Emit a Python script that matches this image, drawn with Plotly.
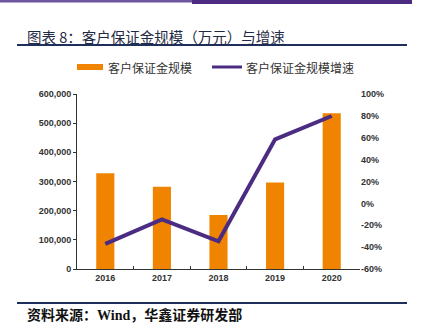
import plotly.graph_objects as go

W, H = 422, 324
years = ["2016", "2017", "2018", "2019", "2020"]
deposits = [328000, 282000, 185000, 297000, 534000]
growth = [-37.0, -14.6, -34.7, 58.6, 79.9]
left_ticks = [0, 100000, 200000, 300000, 400000, 500000, 600000]
left_labels = ["0", "100,000", "200,000", "300,000", "400,000", "500,000", "600,000"]
right_ticks = [-60, -40, -20, 0, 20, 40, 60, 80, 100]
right_labels = [f"{v}%" for v in right_ticks]
series_names = ["客户保证金规模", "客户保证金规模增速"]

ORANGE = "#F08300"
PURPLE = "#4B2C82"
NAVY = "#1F2F5C"

def px(x):
    return x / W

def py(y):
    return 1 - y / H

fig = go.Figure()
fig.add_trace(go.Bar(x=years, y=deposits, marker=dict(color=ORANGE, line=dict(width=0)),
                     width=0.32, showlegend=False, name=series_names[0]))
fig.add_trace(go.Scatter(x=years, y=growth, yaxis="y2", mode="lines",
                         line=dict(color=PURPLE, width=4), showlegend=False, name=series_names[1]))

tickfont = dict(family="Liberation Sans, Arial", size=9, color="#333", weight="bold")
fig.update_layout(
    width=W, height=H,
    margin=dict(l=0, r=0, t=0, b=0),
    paper_bgcolor="white", plot_bgcolor="white",
    showlegend=False,
    xaxis=dict(domain=[px(77), px(360)], showline=True, linecolor="#333", linewidth=1,
               ticks="inside", ticklen=3, tickcolor="#333", tickson="boundaries",
               tickfont=tickfont, showgrid=False, automargin=False, fixedrange=True),
    yaxis=dict(domain=[1 - 269 / H, 1 - 94 / H], range=[0, 600000], tickvals=left_ticks,
               ticktext=left_labels, showline=True, linecolor="#333", linewidth=1,
               ticks="outside", ticklen=3, tickcolor="#333", showgrid=False,
               zeroline=False, tickfont=tickfont, automargin=False),
    yaxis2=dict(overlaying="y", side="right", range=[-60, 100], tickvals=right_ticks,
                ticktext=right_labels, showline=False, showgrid=False, zeroline=False,
                ticks="", tickfont=tickfont, automargin=False),
    shapes=[
        dict(type="rect", xref="paper", yref="paper", x0=0, x1=px(192), y0=py(2.5), y1=py(0),
             fillcolor="#6E55A0", line=dict(width=0)),
        dict(type="rect", xref="paper", yref="paper", x0=px(192), x1=px(412), y0=py(4), y1=py(0),
             fillcolor=PURPLE, line=dict(width=0)),
        dict(type="line", xref="paper", yref="paper", x0=px(17), x1=px(407), y0=py(45), y1=py(45),
             line=dict(color=NAVY, width=2)),
        dict(type="line", xref="paper", yref="paper", x0=px(17), x1=px(407), y0=py(303), y1=py(303),
             line=dict(color=NAVY, width=2)),
        # legend keys
        dict(type="rect", xref="paper", yref="paper", x0=px(77), x1=px(103), y0=py(70), y1=py(64),
             fillcolor=ORANGE, line=dict(width=0)),
        dict(type="line", xref="paper", yref="paper", x0=px(212), x1=px(242), y0=py(67), y1=py(67),
             line=dict(color=PURPLE, width=3)),
    ],
    annotations=[
        dict(text="图表 8：客户保证金规模（万元）与增速", xref="paper", yref="paper",
             x=px(25), y=py(37), xanchor="left", yanchor="middle", showarrow=False,
             font=dict(family="Noto Sans CJK SC", size=14.5, color="#1F2A44")),
        dict(text=series_names[0], xref="paper", yref="paper",
             x=px(106), y=py(67), xanchor="left", yanchor="middle", showarrow=False,
             font=dict(family="Noto Sans CJK SC", size=12, color="#333")),
        dict(text=series_names[1], xref="paper", yref="paper",
             x=px(244), y=py(67), xanchor="left", yanchor="middle", showarrow=False,
             font=dict(family="Noto Sans CJK SC", size=12, color="#333")),
        dict(text="<b>资料来源：Wind，华鑫证券研发部</b>", xref="paper", yref="paper",
             x=px(25), y=py(315), xanchor="left", yanchor="middle", showarrow=False,
             font=dict(family="Liberation Serif, Noto Sans CJK SC", size=14, color="#111")),
    ],
)
fig.write_html("out.html")
